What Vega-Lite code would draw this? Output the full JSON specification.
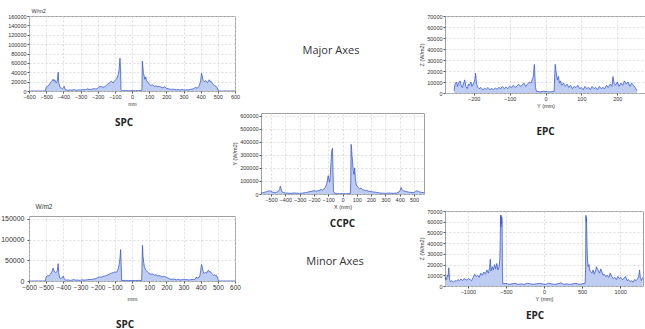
{
 "$schema": "https://vega.github.io/schema/vega-lite/v6.json",
 "background": "white",
 "padding": {"top": 7, "left": 0, "right": 0, "bottom": 0},
 "spacing": -6,
 "datasets": {
  "spc1": [{"x":-600,"y":0},{"x":-505,"y":0},{"x":-500,"y":8000},{"x":-495,"y":9000},{"x":-490,"y":11000},{"x":-485,"y":12000},{"x":-480,"y":15000},{"x":-475,"y":17000},{"x":-470,"y":20000},{"x":-465,"y":22000},{"x":-460,"y":25000},{"x":-455,"y":21000},{"x":-450,"y":24000},{"x":-445,"y":19000},{"x":-440,"y":17000},{"x":-435,"y":22000},{"x":-430,"y":40000},{"x":-427,"y":18000},{"x":-420,"y":9000},{"x":-415,"y":7000},{"x":-410,"y":6000},{"x":-405,"y":5000},{"x":-400,"y":7000},{"x":-395,"y":10000},{"x":-390,"y":4000},{"x":-385,"y":2500},{"x":-380,"y":2000},{"x":-370,"y":1500},{"x":-360,"y":2500},{"x":-350,"y":1500},{"x":-340,"y":3000},{"x":-330,"y":2000},{"x":-320,"y":1500},{"x":-310,"y":2500},{"x":-300,"y":2000},{"x":-290,"y":3000},{"x":-280,"y":2500},{"x":-270,"y":3000},{"x":-260,"y":4500},{"x":-250,"y":3500},{"x":-240,"y":3000},{"x":-230,"y":4500},{"x":-220,"y":5000},{"x":-210,"y":4000},{"x":-200,"y":6000},{"x":-190,"y":9000},{"x":-180,"y":10000},{"x":-170,"y":8000},{"x":-160,"y":9000},{"x":-150,"y":12000},{"x":-140,"y":15000},{"x":-130,"y":18000},{"x":-120,"y":21000},{"x":-110,"y":17000},{"x":-100,"y":22000},{"x":-90,"y":26000},{"x":-85,"y":30000},{"x":-80,"y":35000},{"x":-75,"y":45000},{"x":-70,"y":70000},{"x":-67,"y":48000},{"x":-64,"y":3000},{"x":-60,"y":500},{"x":-40,"y":800},{"x":-20,"y":600},{"x":0,"y":700},{"x":20,"y":600},{"x":40,"y":800},{"x":55,"y":500},{"x":58,"y":4000},{"x":60,"y":64000},{"x":63,"y":52000},{"x":66,"y":40000},{"x":70,"y":33000},{"x":75,"y":25000},{"x":80,"y":30000},{"x":85,"y":22000},{"x":90,"y":20000},{"x":100,"y":15000},{"x":110,"y":12000},{"x":120,"y":13000},{"x":130,"y":10000},{"x":140,"y":11000},{"x":150,"y":9000},{"x":160,"y":10000},{"x":170,"y":8000},{"x":180,"y":7000},{"x":190,"y":9000},{"x":200,"y":6000},{"x":210,"y":5000},{"x":220,"y":4000},{"x":230,"y":3500},{"x":240,"y":4000},{"x":250,"y":3000},{"x":260,"y":2500},{"x":270,"y":3000},{"x":280,"y":2000},{"x":290,"y":3500},{"x":300,"y":2500},{"x":310,"y":2000},{"x":320,"y":3000},{"x":330,"y":2000},{"x":340,"y":3500},{"x":350,"y":4000},{"x":360,"y":5000},{"x":370,"y":8000},{"x":380,"y":6000},{"x":390,"y":10000},{"x":395,"y":15000},{"x":400,"y":22000},{"x":405,"y":38000},{"x":410,"y":30000},{"x":415,"y":22000},{"x":420,"y":20000},{"x":430,"y":22000},{"x":440,"y":18000},{"x":450,"y":24000},{"x":455,"y":20000},{"x":460,"y":21000},{"x":470,"y":15000},{"x":480,"y":12000},{"x":490,"y":10000},{"x":495,"y":8000},{"x":500,"y":3000},{"x":505,"y":0},{"x":600,"y":0}],
  "spc2": [{"x":-600,"y":0},{"x":-505,"y":0},{"x":-500,"y":10000},{"x":-495,"y":12000},{"x":-490,"y":13000},{"x":-485,"y":12000},{"x":-480,"y":15000},{"x":-475,"y":17000},{"x":-470,"y":20000},{"x":-465,"y":24000},{"x":-460,"y":31000},{"x":-455,"y":26000},{"x":-450,"y":22000},{"x":-445,"y":20000},{"x":-440,"y":21000},{"x":-435,"y":25000},{"x":-430,"y":42000},{"x":-427,"y":20000},{"x":-422,"y":8000},{"x":-415,"y":6000},{"x":-410,"y":7000},{"x":-405,"y":10000},{"x":-400,"y":12000},{"x":-395,"y":5000},{"x":-390,"y":3000},{"x":-380,"y":2000},{"x":-370,"y":2500},{"x":-360,"y":1500},{"x":-350,"y":2000},{"x":-340,"y":3500},{"x":-330,"y":2000},{"x":-320,"y":2500},{"x":-310,"y":1500},{"x":-300,"y":2000},{"x":-290,"y":3000},{"x":-280,"y":2000},{"x":-270,"y":2500},{"x":-260,"y":3000},{"x":-250,"y":4000},{"x":-240,"y":3500},{"x":-230,"y":4000},{"x":-220,"y":5000},{"x":-210,"y":6000},{"x":-200,"y":8000},{"x":-190,"y":10000},{"x":-180,"y":9000},{"x":-170,"y":11000},{"x":-160,"y":12000},{"x":-150,"y":13000},{"x":-140,"y":15000},{"x":-130,"y":17000},{"x":-120,"y":19000},{"x":-110,"y":20000},{"x":-100,"y":22000},{"x":-90,"y":21000},{"x":-85,"y":25000},{"x":-80,"y":30000},{"x":-75,"y":40000},{"x":-70,"y":55000},{"x":-66,"y":76000},{"x":-63,"y":40000},{"x":-60,"y":1000},{"x":-40,"y":1500},{"x":-20,"y":1000},{"x":0,"y":1500},{"x":20,"y":1000},{"x":40,"y":1500},{"x":56,"y":1000},{"x":58,"y":30000},{"x":61,"y":86000},{"x":64,"y":60000},{"x":68,"y":45000},{"x":72,"y":35000},{"x":78,"y":28000},{"x":85,"y":25000},{"x":90,"y":22000},{"x":100,"y":18000},{"x":110,"y":16000},{"x":120,"y":17000},{"x":130,"y":14000},{"x":140,"y":15000},{"x":150,"y":12000},{"x":160,"y":13000},{"x":170,"y":11000},{"x":180,"y":10000},{"x":190,"y":11000},{"x":200,"y":9000},{"x":210,"y":7000},{"x":220,"y":5000},{"x":230,"y":4000},{"x":240,"y":5000},{"x":250,"y":3500},{"x":260,"y":3000},{"x":270,"y":4000},{"x":280,"y":2500},{"x":290,"y":3000},{"x":300,"y":4000},{"x":310,"y":3000},{"x":320,"y":3500},{"x":330,"y":2500},{"x":340,"y":3000},{"x":350,"y":4000},{"x":360,"y":3500},{"x":370,"y":5000},{"x":375,"y":10000},{"x":380,"y":7000},{"x":390,"y":8000},{"x":395,"y":12000},{"x":400,"y":25000},{"x":405,"y":40000},{"x":410,"y":32000},{"x":415,"y":22000},{"x":420,"y":18000},{"x":425,"y":20000},{"x":430,"y":21000},{"x":435,"y":19000},{"x":440,"y":24000},{"x":445,"y":26000},{"x":450,"y":22000},{"x":455,"y":23000},{"x":460,"y":20000},{"x":465,"y":18000},{"x":470,"y":16000},{"x":475,"y":14000},{"x":480,"y":15000},{"x":485,"y":13000},{"x":490,"y":14000},{"x":495,"y":12000},{"x":500,"y":5000},{"x":505,"y":0},{"x":600,"y":0}],
  "ccpc": [{"x":-570,"y":5000},{"x":-560,"y":10000},{"x":-550,"y":12000},{"x":-540,"y":15000},{"x":-530,"y":18000},{"x":-520,"y":22000},{"x":-510,"y":25000},{"x":-500,"y":20000},{"x":-490,"y":15000},{"x":-480,"y":12000},{"x":-470,"y":10000},{"x":-460,"y":15000},{"x":-450,"y":20000},{"x":-440,"y":35000},{"x":-435,"y":60000},{"x":-430,"y":40000},{"x":-425,"y":20000},{"x":-415,"y":12000},{"x":-400,"y":8000},{"x":-380,"y":6000},{"x":-360,"y":5000},{"x":-340,"y":8000},{"x":-320,"y":6000},{"x":-300,"y":5000},{"x":-280,"y":7000},{"x":-260,"y":10000},{"x":-240,"y":15000},{"x":-220,"y":20000},{"x":-200,"y":25000},{"x":-180,"y":22000},{"x":-160,"y":28000},{"x":-150,"y":35000},{"x":-140,"y":30000},{"x":-130,"y":40000},{"x":-120,"y":50000},{"x":-110,"y":80000},{"x":-100,"y":140000},{"x":-95,"y":110000},{"x":-90,"y":90000},{"x":-85,"y":150000},{"x":-80,"y":250000},{"x":-75,"y":330000},{"x":-70,"y":350000},{"x":-67,"y":200000},{"x":-63,"y":20000},{"x":-55,"y":5000},{"x":-40,"y":3000},{"x":-20,"y":2000},{"x":0,"y":3000},{"x":20,"y":2000},{"x":40,"y":3000},{"x":55,"y":5000},{"x":58,"y":100000},{"x":60,"y":380000},{"x":63,"y":360000},{"x":66,"y":300000},{"x":70,"y":250000},{"x":75,"y":180000},{"x":80,"y":150000},{"x":85,"y":200000},{"x":90,"y":120000},{"x":95,"y":80000},{"x":100,"y":60000},{"x":110,"y":50000},{"x":120,"y":40000},{"x":130,"y":45000},{"x":140,"y":35000},{"x":150,"y":30000},{"x":160,"y":25000},{"x":170,"y":28000},{"x":180,"y":22000},{"x":200,"y":18000},{"x":220,"y":15000},{"x":240,"y":12000},{"x":260,"y":8000},{"x":280,"y":6000},{"x":300,"y":5000},{"x":320,"y":7000},{"x":340,"y":6000},{"x":360,"y":5000},{"x":380,"y":8000},{"x":395,"y":15000},{"x":405,"y":30000},{"x":410,"y":50000},{"x":415,"y":35000},{"x":425,"y":25000},{"x":440,"y":20000},{"x":460,"y":15000},{"x":480,"y":12000},{"x":500,"y":10000},{"x":510,"y":20000},{"x":520,"y":25000},{"x":530,"y":20000},{"x":540,"y":15000},{"x":555,"y":12000},{"x":570,"y":10000}],
  "epc1": [{"x":-255,"y":2000},{"x":-252,"y":8000},{"x":-248,"y":10000},{"x":-245,"y":6000},{"x":-242,"y":9000},{"x":-238,"y":11000},{"x":-235,"y":7000},{"x":-232,"y":5000},{"x":-228,"y":9000},{"x":-225,"y":12000},{"x":-222,"y":6000},{"x":-218,"y":4000},{"x":-215,"y":8000},{"x":-212,"y":7000},{"x":-208,"y":10000},{"x":-205,"y":6000},{"x":-200,"y":9000},{"x":-197,"y":12000},{"x":-195,"y":18000},{"x":-192,"y":8000},{"x":-188,"y":5000},{"x":-185,"y":4000},{"x":-180,"y":5000},{"x":-175,"y":3000},{"x":-170,"y":4000},{"x":-165,"y":3500},{"x":-160,"y":5000},{"x":-155,"y":3000},{"x":-150,"y":4000},{"x":-145,"y":3000},{"x":-140,"y":4500},{"x":-135,"y":3500},{"x":-130,"y":5000},{"x":-125,"y":4000},{"x":-120,"y":6000},{"x":-115,"y":4000},{"x":-110,"y":5500},{"x":-105,"y":4000},{"x":-100,"y":6000},{"x":-95,"y":5000},{"x":-90,"y":7000},{"x":-85,"y":5000},{"x":-80,"y":6000},{"x":-75,"y":8000},{"x":-70,"y":6000},{"x":-65,"y":7000},{"x":-60,"y":9000},{"x":-55,"y":6000},{"x":-50,"y":8000},{"x":-45,"y":10000},{"x":-40,"y":9000},{"x":-37,"y":12000},{"x":-34,"y":15000},{"x":-31,"y":26000},{"x":-28,"y":5000},{"x":-25,"y":1500},{"x":-15,"y":1000},{"x":-5,"y":1500},{"x":5,"y":1200},{"x":15,"y":1000},{"x":24,"y":1500},{"x":27,"y":26000},{"x":30,"y":18000},{"x":33,"y":12000},{"x":36,"y":15000},{"x":39,"y":9000},{"x":42,"y":11000},{"x":45,"y":7000},{"x":50,"y":9000},{"x":55,"y":6000},{"x":60,"y":8000},{"x":65,"y":5000},{"x":70,"y":7000},{"x":75,"y":4000},{"x":80,"y":6000},{"x":85,"y":5000},{"x":90,"y":7000},{"x":95,"y":4000},{"x":100,"y":5000},{"x":105,"y":3000},{"x":110,"y":6000},{"x":115,"y":4000},{"x":120,"y":5000},{"x":125,"y":3000},{"x":130,"y":6000},{"x":135,"y":4000},{"x":140,"y":5000},{"x":145,"y":3000},{"x":150,"y":6000},{"x":155,"y":4000},{"x":160,"y":5000},{"x":165,"y":4000},{"x":170,"y":7000},{"x":175,"y":5000},{"x":180,"y":8000},{"x":185,"y":6000},{"x":188,"y":15000},{"x":191,"y":9000},{"x":195,"y":7000},{"x":200,"y":10000},{"x":205,"y":6000},{"x":210,"y":9000},{"x":215,"y":7000},{"x":220,"y":11000},{"x":225,"y":8000},{"x":230,"y":10000},{"x":235,"y":6000},{"x":240,"y":9000},{"x":245,"y":7000},{"x":250,"y":5000},{"x":255,"y":2000}],
  "epc2": [{"x":-1300,"y":5000},{"x":-1290,"y":8000},{"x":-1280,"y":6000},{"x":-1270,"y":10000},{"x":-1260,"y":9000},{"x":-1250,"y":17000},{"x":-1240,"y":6000},{"x":-1230,"y":4000},{"x":-1210,"y":5000},{"x":-1190,"y":3500},{"x":-1170,"y":5000},{"x":-1150,"y":4500},{"x":-1130,"y":6000},{"x":-1110,"y":5000},{"x":-1090,"y":6500},{"x":-1070,"y":5000},{"x":-1050,"y":7000},{"x":-1030,"y":6000},{"x":-1010,"y":5500},{"x":-990,"y":7000},{"x":-970,"y":6000},{"x":-950,"y":5000},{"x":-930,"y":8000},{"x":-910,"y":11000},{"x":-890,"y":9000},{"x":-870,"y":10000},{"x":-850,"y":8000},{"x":-830,"y":12000},{"x":-810,"y":10000},{"x":-790,"y":13000},{"x":-770,"y":11000},{"x":-750,"y":15000},{"x":-730,"y":12000},{"x":-715,"y":17000},{"x":-705,"y":25000},{"x":-695,"y":14000},{"x":-680,"y":18000},{"x":-665,"y":15000},{"x":-650,"y":20000},{"x":-635,"y":16000},{"x":-620,"y":21000},{"x":-605,"y":15000},{"x":-590,"y":18000},{"x":-580,"y":25000},{"x":-574,"y":45000},{"x":-570,"y":66000},{"x":-566,"y":55000},{"x":-562,"y":66000},{"x":-558,"y":58000},{"x":-554,"y":64000},{"x":-550,"y":60000},{"x":-546,"y":10000},{"x":-540,"y":2000},{"x":-500,"y":2500},{"x":-460,"y":1500},{"x":-420,"y":2000},{"x":-380,"y":2500},{"x":-340,"y":1500},{"x":-300,"y":2000},{"x":-260,"y":1500},{"x":-220,"y":2500},{"x":-180,"y":2000},{"x":-140,"y":1500},{"x":-100,"y":2000},{"x":-60,"y":2500},{"x":-20,"y":2000},{"x":20,"y":1500},{"x":60,"y":2500},{"x":100,"y":2000},{"x":140,"y":1500},{"x":180,"y":2000},{"x":220,"y":3000},{"x":260,"y":1500},{"x":300,"y":2000},{"x":340,"y":1500},{"x":380,"y":2000},{"x":420,"y":2500},{"x":460,"y":1500},{"x":500,"y":2000},{"x":540,"y":2500},{"x":546,"y":15000},{"x":550,"y":66000},{"x":554,"y":60000},{"x":558,"y":64000},{"x":563,"y":45000},{"x":570,"y":25000},{"x":580,"y":18000},{"x":590,"y":20000},{"x":600,"y":15000},{"x":615,"y":13000},{"x":630,"y":12000},{"x":645,"y":15000},{"x":660,"y":11000},{"x":675,"y":14000},{"x":690,"y":18000},{"x":700,"y":16000},{"x":715,"y":14000},{"x":730,"y":12000},{"x":745,"y":16000},{"x":760,"y":13000},{"x":775,"y":10000},{"x":790,"y":11000},{"x":810,"y":9000},{"x":830,"y":10000},{"x":850,"y":8000},{"x":870,"y":12000},{"x":890,"y":9000},{"x":910,"y":7000},{"x":930,"y":8000},{"x":950,"y":6000},{"x":970,"y":9000},{"x":990,"y":7000},{"x":1010,"y":8000},{"x":1030,"y":6000},{"x":1050,"y":7000},{"x":1070,"y":9000},{"x":1090,"y":5000},{"x":1110,"y":6000},{"x":1130,"y":4000},{"x":1150,"y":5000},{"x":1170,"y":3500},{"x":1190,"y":6000},{"x":1210,"y":5000},{"x":1230,"y":7000},{"x":1245,"y":9000},{"x":1255,"y":15000},{"x":1265,"y":8000},{"x":1280,"y":5000},{"x":1295,"y":8000}]
 },
 "hconcat": [
  {
   "hconcat": [
    {
     "vconcat": [
      {
       "width": 206, "height": 75,
       "title": {"text": "SPC", "orient": "bottom", "offset": 11, "dx": -8},
       "data": {"name": "spc1"},
       "mark": {"type": "area", "clip": true, "color": "#b4c4f0", "opacity": 0.85, "line": {"color": "#3b5bd6", "strokeWidth": 0.8}},
       "encoding": {
        "x": {"field": "x", "type": "quantitative", "scale": {"domain": [-600, 600], "nice": false}, "axis": {"values": [-600,-500,-400,-300,-200,-100,0,100,200,300,400,500,600], "format": "d", "title": "mm", "titleFontSize": 5}},
        "y": {"field": "y", "type": "quantitative", "scale": {"domain": [0, 160000], "nice": false}, "axis": {"values": [0,20000,40000,60000,80000,100000,120000,140000,160000], "format": "d", "title": "W/m2", "titleAngle": 0, "titleAlign": "left", "titleBaseline": "bottom", "titleX": 2, "titleY": -3}}
       }
      },
      {
       "width": 206, "height": 65,
       "title": {"text": "SPC", "orient": "bottom", "offset": 18, "dx": -7},
       "data": {"name": "spc2"},
       "mark": {"type": "area", "clip": true, "color": "#b4c4f0", "opacity": 0.85, "line": {"color": "#3b5bd6", "strokeWidth": 0.8}},
       "encoding": {
        "x": {"field": "x", "type": "quantitative", "scale": {"domain": [-600, 600], "nice": false}, "axis": {"values": [-600,-500,-400,-300,-200,-100,0,100,200,300,400,500,600], "format": "d", "title": "mm", "labelFontSize": 6.5, "titleFontSize": 6, "titlePadding": 5}},
        "y": {"field": "y", "type": "quantitative", "scale": {"domain": [0, 157000], "nice": false}, "axis": {"values": [0,50000,100000,150000], "format": "d", "labelFontSize": 7, "labelPadding": 3, "title": "W/m2", "titleFontSize": 6.5, "titleAngle": 0, "titleAlign": "left", "titleBaseline": "bottom", "titleX": 6, "titleY": -7}}
       }
      }
     ],
     "spacing": 74
    },
    {
     "vconcat": [
      {
       "width": 140, "height": 70,
       "view": {"stroke": null},
       "data": {"values": [{"label": "Major Axes"}]},
       "mark": {"type": "text", "font": "Open Sans", "fontSize": 11, "color": "#333"},
       "encoding": {"text": {"field": "label"}}
      },
      {
       "width": 163, "height": 81,
       "title": {"text": "CCPC", "orient": "bottom", "offset": 9},
       "data": {"name": "ccpc"},
       "mark": {"type": "area", "clip": true, "color": "#b4c4f0", "opacity": 0.85, "line": {"color": "#3b5bd6", "strokeWidth": 0.8}},
       "encoding": {
        "x": {"field": "x", "type": "quantitative", "scale": {"domain": [-570, 570], "nice": false}, "axis": {"values": [-500,-400,-300,-200,-100,0,100,200,300,400,500], "format": "d", "title": "X (mm)"}},
        "y": {"field": "y", "type": "quantitative", "scale": {"domain": [0, 620000], "nice": false}, "axis": {"values": [0,100000,200000,300000,400000,500000,600000], "format": "d", "title": "Y (W/m2)"}}
       }
      },
      {
       "width": 148, "height": 8,
       "view": {"stroke": null},
       "data": {"values": [{"label": "Minor Axes"}]},
       "mark": {"type": "text", "font": "Open Sans", "fontSize": 11, "color": "#333"},
       "encoding": {"text": {"field": "label"}}
      }
     ],
     "spacing": 26
    }
   ],
   "spacing": -9
  },
  {
   "vconcat": [
    {
     "width": 201, "height": 77,
     "title": {"text": "EPC", "orient": "bottom", "offset": 18},
     "data": {"name": "epc1"},
     "mark": {"type": "area", "clip": true, "color": "#b4c4f0", "opacity": 0.85, "line": {"color": "#3b5bd6", "strokeWidth": 0.8}},
     "encoding": {
      "x": {"field": "x", "type": "quantitative", "scale": {"domain": [-280, 280], "nice": false}, "axis": {"values": [-200,-100,0,100,200], "format": "d", "title": "Y (mm)"}},
      "y": {"field": "y", "type": "quantitative", "scale": {"domain": [0, 70000], "nice": false}, "axis": {"values": [0,10000,20000,30000,40000,50000,60000,70000], "format": "d", "title": "Z (W/m2)"}}
     }
    },
    {
     "width": 198, "height": 75,
     "title": {"text": "EPC", "orient": "bottom", "offset": 9, "dx": -9},
     "data": {"name": "epc2"},
     "mark": {"type": "area", "clip": true, "color": "#b4c4f0", "opacity": 0.85, "line": {"color": "#3b5bd6", "strokeWidth": 0.8}},
     "encoding": {
      "x": {"field": "x", "type": "quantitative", "scale": {"domain": [-1300, 1300], "nice": false}, "axis": {"values": [-1000,-500,0,500,1000], "format": "d", "title": "Y (mm)"}},
      "y": {"field": "y", "type": "quantitative", "scale": {"domain": [0, 70000], "nice": false}, "axis": {"values": [0,10000,20000,30000,40000,50000,60000,70000], "format": "d", "title": "Z (W/m2)"}}
     }
    }
   ],
   "spacing": 70
  }
 ],
 "config": {
  "view": {"stroke": "#a0a0a0", "strokeWidth": 1},
  "axis": {"labelFont": "Liberation Sans", "titleFont": "Liberation Sans", "labelColor": "#333", "titleColor": "#333", "labelFontSize": 5.5, "titleFontSize": 5.5, "titleFontWeight": "normal", "gridColor": "#cfcfcf", "gridDash": [2, 2], "gridWidth": 0.7, "domain": false, "tickColor": "#555", "tickSize": 2, "labelPadding": 1, "titlePadding": 2, "labelOverlap": false, "labelFlush": false},
  "title": {"font": "Open Sans", "fontSize": 10, "fontWeight": "bold", "color": "#222", "anchor": "middle", "frame": "group"}
 }
}
